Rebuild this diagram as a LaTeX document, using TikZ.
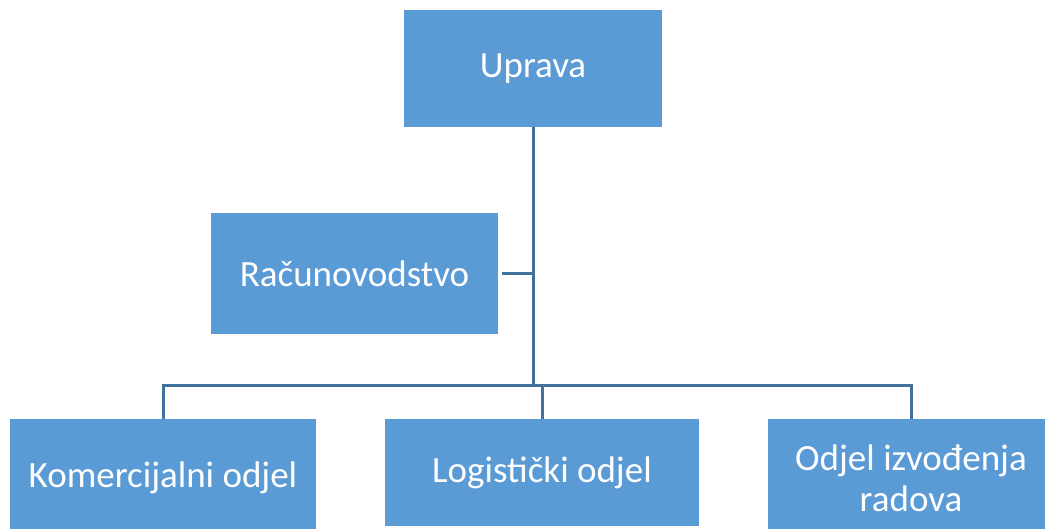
\documentclass[tikz,border=0pt]{standalone}
\usepackage{fontspec}
\setmainfont{Carlito}
\usetikzlibrary{positioning}
\definecolor{boxblue}{HTML}{5B9BD5}
\definecolor{lineblue}{HTML}{41719C}
\tikzset{unit/.style={fill=boxblue,text=white,inner sep=0pt,align=center,
    font=\fontsize{37}{41}\selectfont}}
\begin{document}
\begin{tikzpicture}[x=1pt,y=-1pt] %the organisation chart
    \useasboundingbox (0,0) rectangle (1045,528);
    %the boxes
    \node[unit,minimum width=258pt,minimum height=117pt] (U) at (533,68.5) {Uprava};
    \node[unit,minimum width=287pt,minimum height=121pt] (R) at (354.5,273.5) {Računovodstvo};
    \node[unit,minimum width=306pt,minimum height=118pt] (K) at (163,478) {Komercijalni odjel};
    \node[unit,minimum width=314pt,minimum height=107pt] (L) at (542,472.5) {Logistički odjel};
    \node[unit,minimum width=286pt,minimum height=118pt] (O) at (911,478) {Odjel izvođenja\\radova};
    \coordinate (bus) at (533,385);
%the lines
    \begin{scope}[every path/.style={draw=lineblue,line width=3pt}]
       \draw (U.south) -- (bus);
       \draw ([xshift=4pt]R.east) -- (R.east -| bus);
       \draw (K.north) -- (K.north |- bus) -- (O.north |- bus) -- (O.north);
       \draw (L.north) -- (L.north |- bus);
    \end{scope}
\end{tikzpicture}
\end{document}
